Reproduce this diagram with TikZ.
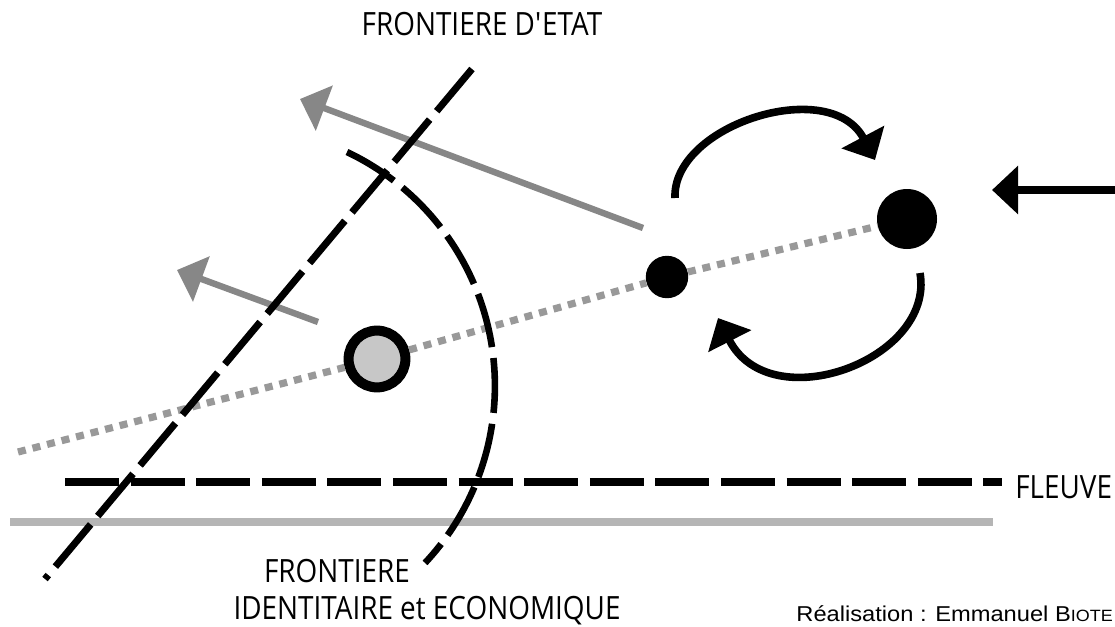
\documentclass[tikz,border=0pt]{standalone}
\usepackage{fontspec}
\usetikzlibrary{arrows.meta}
\newfontfamily\labelfont[FakeStretch=0.87]{Open Sans}
\newfontfamily\creditfont[FakeStretch=1.1]{Liberation Sans}

\begin{document}
\begin{tikzpicture}[x=0.25mm, y=-0.25mm,
  >={Triangle[length=6.5mm,width=11.75mm]},
  txt/.style={font=\labelfont\fontsize{22.8}{27}\selectfont, inner sep=0pt},
  frontier/.style={line width=1.75mm, dash pattern=on 13.75mm off 2.75mm},
  flow/.style={->, line width=1.6mm, black!47},
  turnarrow/.style={->, line width=1.9mm},
  tie/.style={line width=1.8mm, black!40, dash pattern=on 2mm off 1.75mm},
  dot/.style={circle, fill=black, inner sep=0pt}]
  \useasboundingbox (0,0) rectangle (1115,627);

  % fleuve
  \draw[black!29, line width=1.8mm] (10,522) -- (993,522);
  \draw[line width=1.8mm, dash pattern=on 13.5mm off 2.9mm] (65,482) -- (1002,482);

  % lieux
  \node[circle, draw, line width=2.5mm, fill=black!22, minimum size=14.2mm, inner sep=0pt] (ring) at (377,359) {};
  \node[dot, minimum size=10.6mm] (smalldot) at (667,277) {};
  \node[dot, minimum size=15mm] (bigdot) at (907,219) {};
  \coordinate (west) at (18,452);
  \draw[tie] (west) -- (ring) -- (smalldot) -- (bigdot);

  % flux
  \coordinate (uptail) at (643,228);
  \coordinate (uptip) at (300,99);
  \coordinate (lowtail) at (318,322);
  \coordinate (lowtip) at (177,270);
  \draw[flow] (uptail) -- (uptip);
  \draw[flow] (lowtail) -- (lowtip);

  % frontieres
  \coordinate (etattop) at (472,69);
  \coordinate (etatbottom) at (45,579);
  \draw[frontier] (etattop) -- (etatbottom);
  \draw[frontier, line width=1.65mm] (347,152) arc[start angle=64.6, end angle=-43.1, radius=64.75mm];

  % echanges
  \coordinate (topstart) at (675,198);
  \coordinate (toptip) at (875,160);
  \coordinate (botstart) at (920,273);
  \coordinate (bottip) at (718,318);
  \draw[turnarrow] (topstart) .. controls (672,125) and (830,75) .. (toptip);
  \draw[turnarrow] (botstart) .. controls (935,360) and (770,420) .. (bottip);
  \coordinate (eastedge) at (1115,190);
  \coordinate (easttip) at (992,190);
  \draw[turnarrow] (eastedge) -- (easttip);

  \node[txt, anchor=base] (etat) at (482,36) {FRONTIERE D\textquotesingle ETAT};
  \node[txt, anchor=base] (ident) at (337,582) {FRONTIERE};
  \node[txt, anchor=base] (identeco) at (427,619) {IDENTITAIRE et ECONOMIQUE};
  \node[txt, anchor=base west] (fleuve) at (1015,498) {FLEUVE};
  \node[anchor=base east, inner sep=0pt, font=\creditfont\fontsize{15.3}{18}\selectfont] (credit) at (1113,621)
    {Réalisation : Emmanuel B{\fontsize{11.6}{14}\selectfont IOTE}};
\end{tikzpicture}
\end{document}
